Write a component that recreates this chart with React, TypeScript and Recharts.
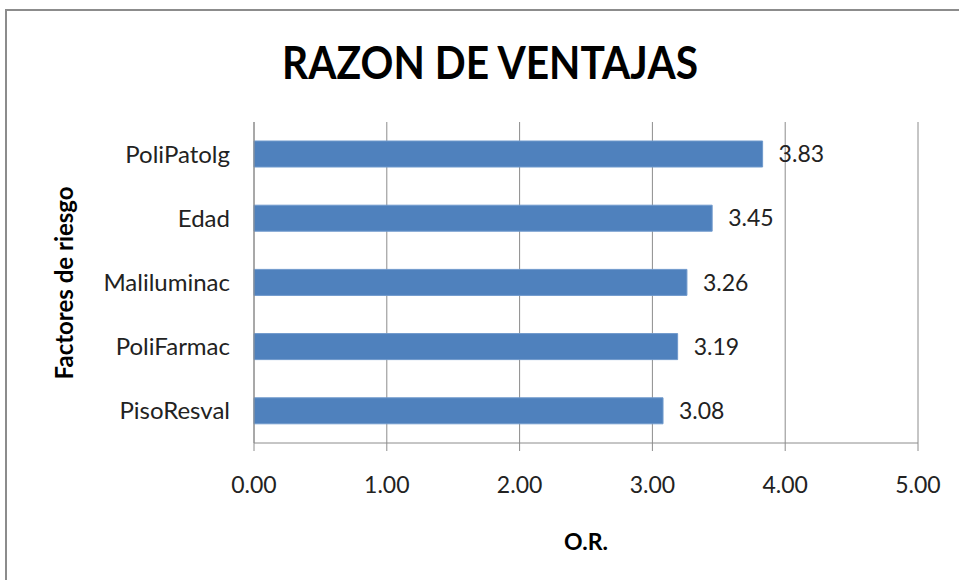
import { Bar, BarChart, CartesianGrid, LabelList, XAxis, YAxis } from "recharts";

const categories = ["PoliPatolg", "Edad", "Maliluminac", "PoliFarmac", "PisoResval"];
const orValues = [3.83, 3.45, 3.26, 3.19, 3.08];
const xTicks = [0, 1, 2, 3, 4, 5];

const GRID = "#8c8c8c";
const FONT = "Lato, 'Open Sans', sans-serif";

export default function App() {
  const data = categories.map((name, i) => ({ name, or: orValues[i] }));

  return (
    <div
      style={{
        position: "absolute",
        left: 0,
        top: 0,
        width: 959,
        height: 580,
        overflow: "hidden",
        background: "#fff",
        fontFamily: FONT,
      }}
    >
      {/* chart frame, runs off the right and bottom edges */}
      <div
        style={{
          position: "absolute",
          left: 5,
          top: 9,
          width: 1000,
          height: 700,
          border: `2px solid ${GRID}`,
          boxSizing: "border-box",
        }}
      />

      <div style={{ position: "absolute", left: 0, top: 0 }}>
        <BarChart
          width={959}
          height={580}
          layout="vertical"
          data={data}
          margin={{ top: 122, right: 41, bottom: 77, left: 24 }}
          barSize={26}
        >
          <CartesianGrid horizontal={false} stroke={GRID} strokeWidth={1} />
          <XAxis
            type="number"
            domain={[0, 5]}
            ticks={xTicks}
            interval={0}
            height={60}
            tickFormatter={(v: number) => v.toFixed(2)}
            tick={{ fill: "#222", fontSize: 23, fontFamily: FONT }}
            axisLine={{ stroke: GRID }}
            tickLine={{ stroke: GRID }}
            tickSize={8}
            tickMargin={26}
          />
          <YAxis
            type="category"
            dataKey="name"
            width={230}
            tick={{ fill: "#222", fontSize: 24, fontFamily: FONT }}
            axisLine={{ stroke: GRID }}
            tickLine={false}
            tickMargin={18}
          />
          <Bar dataKey="or" fill="#4f81bd" stroke="#6f99cc" strokeWidth={1} isAnimationActive={false}>
            <LabelList
              dataKey="or"
              position="right"
              offset={16}
              formatter={(v: number) => v.toFixed(2)}
              style={{ fill: "#222", fontSize: 23, fontFamily: FONT }}
            />
          </Bar>
        </BarChart>
      </div>

      {/* titles */}
      <svg width={959} height={580} style={{ position: "absolute", left: 0, top: 0, pointerEvents: "none" }}>
        <text
          x={490}
          y={79}
          textAnchor="middle"
          fontSize={46}
          fontWeight="bold"
          fontFamily={FONT}
          fill="#000"
          textLength={416}
          lengthAdjust="spacingAndGlyphs"
        >
          RAZON DE VENTAJAS
        </text>
        <text
          x={63}
          y={283}
          transform="rotate(-90 63 283)"
          textAnchor="middle"
          dominantBaseline="central"
          fontSize={24}
          fontWeight="bold"
          fontFamily={FONT}
          fill="#000"
        >
          Factores de riesgo
        </text>
        <text x={586} y={550} textAnchor="middle" fontSize={23} fontWeight="bold" fontFamily={FONT} fill="#000">
          O.R.
        </text>
      </svg>
    </div>
  );
}
